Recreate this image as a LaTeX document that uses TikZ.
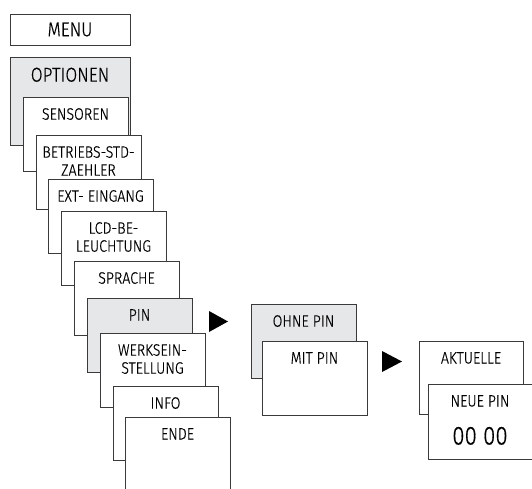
\documentclass[tikz,border=0pt]{standalone}
\usepackage{fontspec}
\setmainfont{Fira Sans}[UprightFont={* Light}, FakeStretch=0.86, FakeBold=0.5]
\definecolor{panel}{HTML}{E6E7E8}
\definecolor{edge}{HTML}{3A3A3A}
\begin{document}
\begin{tikzpicture}[x=1pt,y=-1pt,
  box/.style={draw=edge, line width=0.9pt, fill=white, minimum width=105pt,
    minimum height=74pt, anchor=north west, inner sep=0pt, outer sep=0pt},
  gbox/.style={box, fill=panel},
  lblbase/.style={anchor=north, inner sep=0pt, align=center},
  txt/.style={lblbase, font=\fontsize{16.5}{18}\selectfont, yshift=-11pt},
  bigtxt/.style={lblbase, font=\fontsize{20}{22}\selectfont, yshift=-10.5pt},
  numtxt/.style={anchor=south, inner sep=0pt, font=\fontsize{26}{28}\selectfont, yshift=14pt, xshift=-1pt},
  tri/.style={fill=black}]
\clip (0,0) rectangle (532,488);
% left column
\node[box, minimum width=120pt, minimum height=31pt, font=\fontsize{20}{22}\selectfont] (menu) at (10,14) {MENU};
\node[gbox, minimum width=120pt, minimum height=88pt, label={[bigtxt]north:OPTIONEN}] (opt) at (10,57) {};
\node[box, label={[txt]north:SENSOREN}] (sens) at (23,97) {};
\node[box, label={[txt]north:BETRIEBS-STD-\\ZAEHLER}] (betr) at (36,135) {};
\node[box, label={[txt]north:EXT- EINGANG}] (ext) at (48,179) {};
\node[box, label={[txt]north:LCD-BE-\\LEUCHTUNG}] (lcd) at (61,211) {};
\node[box, label={[txt]north:SPRACHE}] (spr) at (74,261) {};
\node[gbox, label={[txt]north:PIN}] (pin) at (87,298) {};
\node[box, label={[txt]north:WERKSEIN-\\STELLUNG}] (werk) at (100,333) {};
\node[box, label={[txt]north:INFO}] (info) at (113,386) {};
\node[box, minimum height=90pt, label={[txt]north:ENDE}] (ende) at (125,417) {};
% middle
\node[gbox, label={[txt]north:OHNE PIN}] (ohne) at (251,304) {};
\node[box, label={[txt]north:MIT PIN}] (mit) at (262,341) {};
% right
\node[box, minimum width=104pt, minimum height=73pt, label={[txt]north:AKTUELLE}] (akt) at (419,341) {};
\node[box, minimum width=106pt, minimum height=75pt, label={[txt, xshift=-1pt]north:NEUE PIN},
  label={[numtxt]south:00 00}] (neue) at (428,384) {};
% arrows
\fill[tri] (209,311) -- (228,321.5) -- (209,332) -- cycle;
\fill[tri] (382,351) -- (402,361.5) -- (382,372) -- cycle;
\end{tikzpicture}
\end{document}
